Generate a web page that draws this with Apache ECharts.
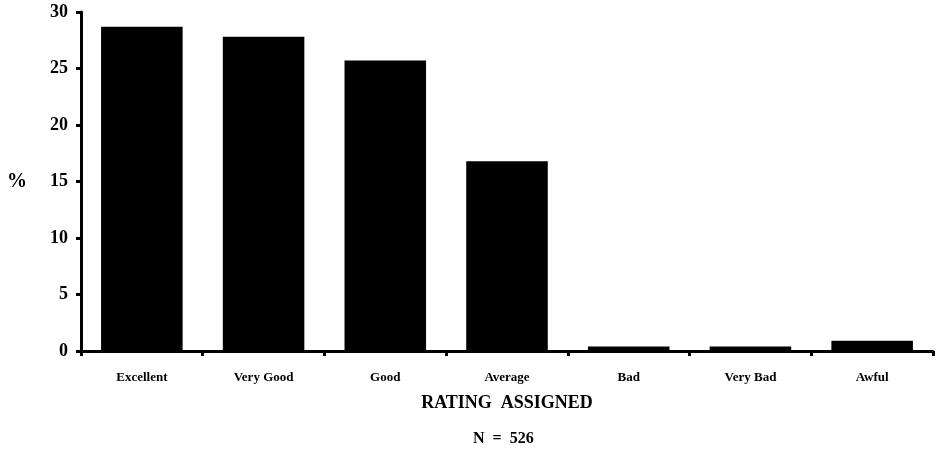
<!DOCTYPE html>
<html><head><meta charset="utf-8">
<script src="https://cdn.jsdelivr.net/npm/echarts@6/dist/echarts.min.js"></script>
<style>html,body{margin:0;padding:0;background:#fff}#c{width:938px;height:452px}</style>
</head><body><div id="c"></div>
<script>
const categories = ["Excellent", "Very Good", "Good", "Average", "Bad", "Very Bad", "Awful"];
const percentValues = [28.7, 27.8, 25.7, 16.8, 0.4, 0.4, 0.9];
const yTicks = [0, 5, 10, 15, 20, 25, 30];
const xTitle = "RATING  ASSIGNED";
const yTitle = "%";
const footNote = "N  =  526";

const serif = "Liberation Serif";
const chart = echarts.init(document.getElementById('c'), null, {renderer: 'canvas'});
chart.setOption({
  animation: false,
  backgroundColor: '#fff',
  grid: {left: 81, right: 5, top: 12, bottom: 101, containLabel: false, outerBoundsMode: 'none'},
  xAxis: {
    type: 'category',
    data: categories,
    boundaryGap: true,
    axisLine: {lineStyle: {color: '#000', width: 3}},
    axisTick: {show: true, length: 5, alignWithLabel: false, lineStyle: {color: '#000', width: 3}},
    axisLabel: {color: '#000', fontFamily: serif, fontWeight: 'bold', fontSize: 13, margin: 20},
    name: xTitle,
    nameLocation: 'middle',
    nameGap: 43,
    nameTextStyle: {color: '#000', fontFamily: serif, fontWeight: 'bold', fontSize: 18}
  },
  yAxis: {
    type: 'value',
    min: 0, max: 30, interval: 5,
    axisLine: {show: true, lineStyle: {color: '#000', width: 3}},
    axisTick: {show: true, inside: false, length: 5, lineStyle: {color: '#000', width: 3}},
    splitLine: {show: false},
    axisLabel: {color: '#000', fontFamily: serif, fontWeight: 'bold', fontSize: 18, margin: 13,
      formatter: v => yTicks.includes(v) ? String(v) : ''},
    name: yTitle,
    nameLocation: 'middle',
    nameRotate: 0,
    nameGap: 54,
    nameTextStyle: {color: '#000', fontFamily: serif, fontWeight: 'bold', fontSize: 20}
  },
  graphic: [{
    type: 'text', left: 473, top: 431,
    style: {text: footNote, fill: '#000', font: 'bold 16px "Liberation Serif"'}
  }],
  series: [{
    type: 'bar',
    data: percentValues,
    barWidth: '67%',
    itemStyle: {color: '#000'}
  }]
});
</script></body></html>
